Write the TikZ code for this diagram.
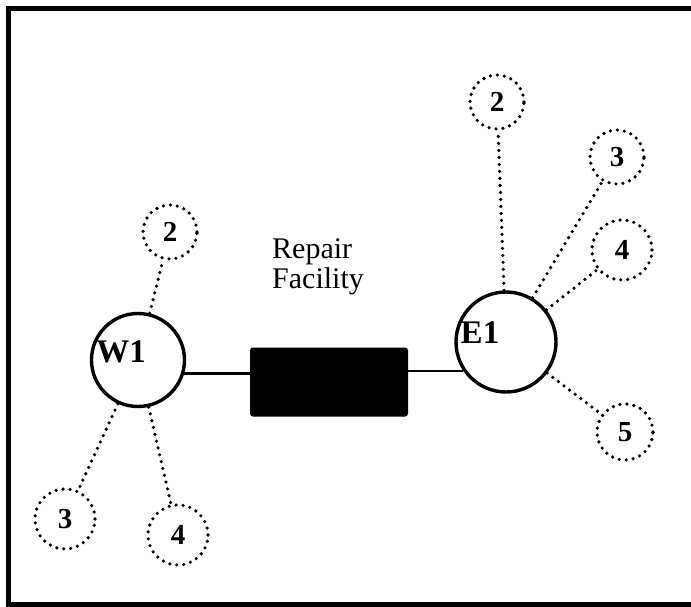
\documentclass[tikz,border=0pt]{standalone}
\usepackage{fontspec}
\setmainfont{Liberation Serif}
\usetikzlibrary{arrows.meta,positioning}

\begin{document}
\begin{tikzpicture}[x=1pt, y=-1pt,
    hub/.style={circle, draw, line width=3.4pt, inner sep=0pt},
    hubname/.style={anchor=base, inner sep=0pt, font=\fontsize{33}{33}\selectfont\bfseries},
    sat/.style={circle, draw, line width=3.6pt, dash pattern=on 0pt off 7pt, line cap=round,
                minimum size=57pt, inner sep=0pt, font=\fontsize{29}{29}\selectfont\bfseries},
    link/.style={line width=3.6pt, dash pattern=on 0pt off 7pt, line cap=round},
    wire/.style={line width=2.6pt},
    depot/.style={rectangle, fill=black, rounded corners=3pt, minimum width=158pt, minimum height=69pt}
]
\useasboundingbox (0,0) rectangle (691,607);
\draw[line width=5pt] (700,9) -- (8,9) -- (8,604) -- (700,604);

% hubs and the repair facility
\node[hub, minimum size=93pt] (W1) at (138,360) {};
\node[hubname] (W1name) at (121,362) {W1};
\node[hub, minimum size=100pt] (E1) at (506,342) {};
\node[hubname] (E1name) at (480,343) {E1};
\node[depot] (shop) at (329,382) {};
\node[anchor=base west, inner sep=0pt, align=left, font=\fontsize{30}{30}\selectfont] (shoplabel) at (272,288) {Repair\\Facility};

\draw[wire] (W1.-16) -- (W1.-16 -| shop.west);
\draw[wire] (shop.east |- E1.214) -- (E1.214);

% west side stations
\node[sat, minimum size=54pt] (W2) at (170,232) {2};
\node[sat, minimum size=60pt] (W3) at (65,519) {3};
\node[sat, minimum size=60pt] (W4) at (178,535) {4};

% east side stations
\node[sat, minimum size=54pt] (E2) at (497,102) {2};
\node[sat, minimum size=54pt] (E3) at (617,157) {3};
\node[sat, minimum size=60pt] (E4) at (622,250) {4};
\node[sat, minimum size=56pt] (E5) at (625,432) {5};

\foreach \s in {W2,W3,W4} \draw[link] (W1) -- (\s);
\foreach \s in {E2,E3,E4,E5} \draw[link] (E1) -- (\s);
\end{tikzpicture}
\end{document}
